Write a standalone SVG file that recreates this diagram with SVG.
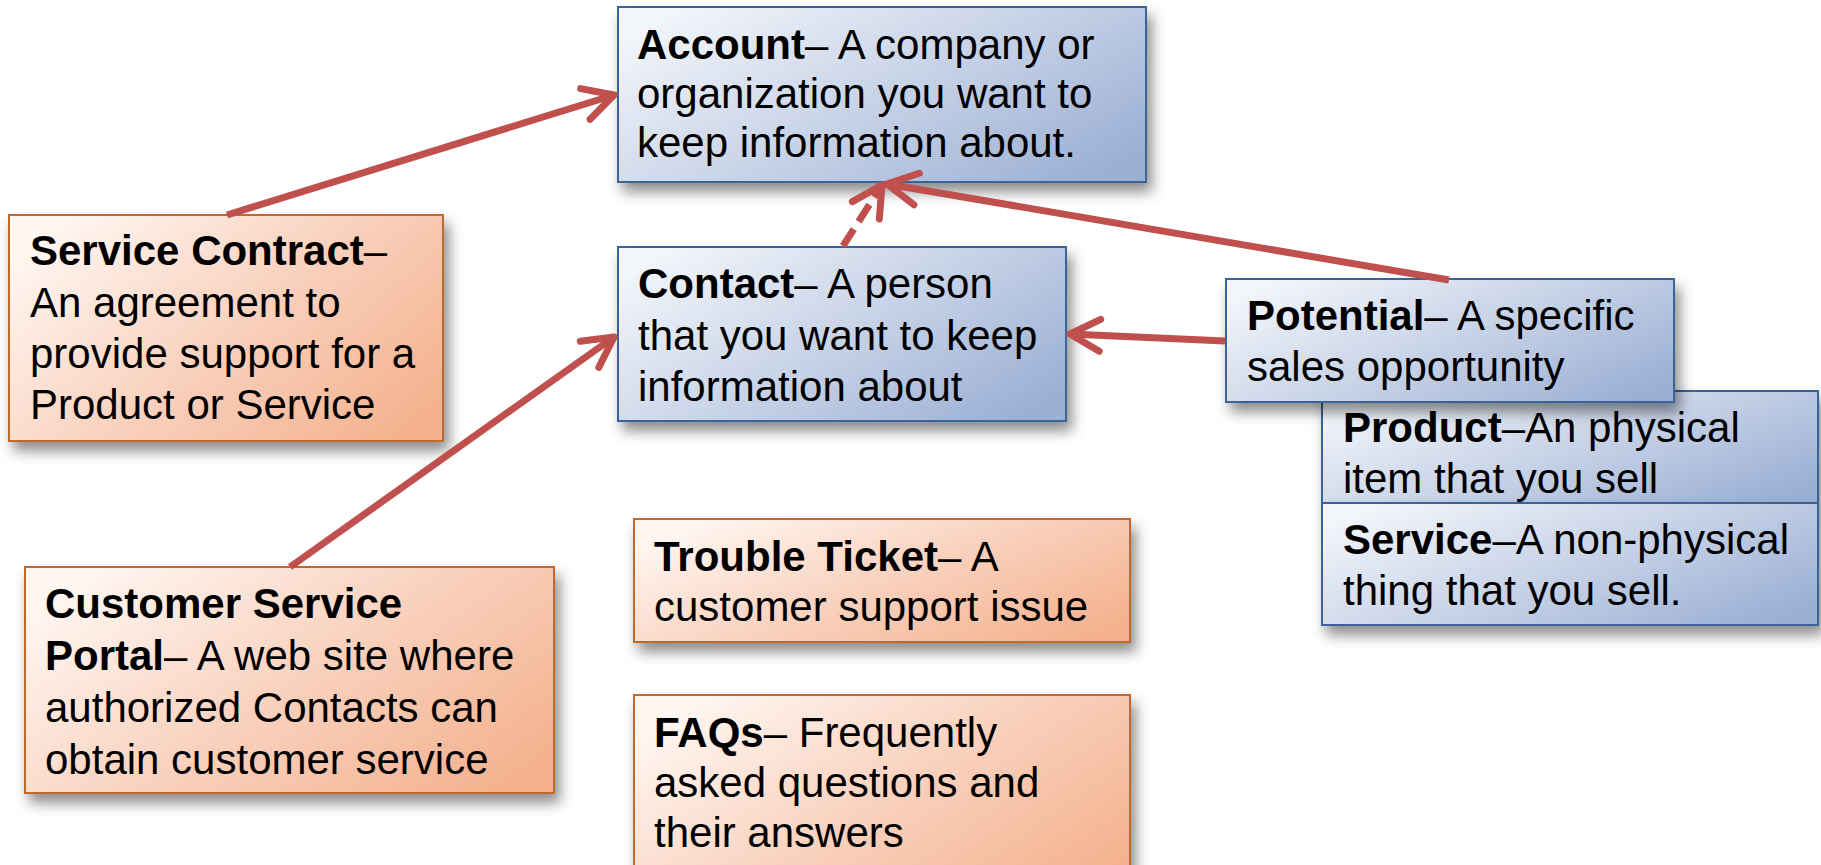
<svg xmlns="http://www.w3.org/2000/svg" width="1821" height="865" viewBox="0 0 1821 865">
<defs>
<linearGradient id="gBlue" x1="0" y1="0.2" x2="1" y2="0.8">
<stop offset="0" stop-color="#F2F5FA"/>
<stop offset="0.5" stop-color="#C8D3E7"/>
<stop offset="1" stop-color="#9CB0D5"/>
</linearGradient>
<linearGradient id="gOrange" x1="0" y1="0.2" x2="1" y2="0.8">
<stop offset="0" stop-color="#FFF7F2"/>
<stop offset="0.5" stop-color="#F9D2BF"/>
<stop offset="1" stop-color="#F4B28F"/>
</linearGradient>
<filter id="shadow" x="-10%" y="-10%" width="130%" height="140%">
<feDropShadow dx="5" dy="9" stdDeviation="7" flood-color="#000" flood-opacity="0.45"/>
</filter>
<marker id="arrow" markerUnits="userSpaceOnUse" orient="auto" refX="0" refY="0" markerWidth="60" markerHeight="60" viewBox="-40 -30 50 60" overflow="visible">
<path d="M -30 -16 L 0 0 L -30 16" fill="none" stroke="#C0504D" stroke-width="7" stroke-linecap="round" stroke-linejoin="round"/>
</marker>
</defs>
<style>
.blue{fill:url(#gBlue);stroke:#3A6399;stroke-width:2;filter:url(#shadow)}
.orange{fill:url(#gOrange);stroke:#C06A2C;stroke-width:2;filter:url(#shadow)}
text{font-family:"Liberation Sans",Arial,sans-serif;font-size:42px;fill:#000}
.b{font-weight:bold}
.conn{fill:none;stroke:#C0504D;stroke-width:7;stroke-linecap:butt;marker-end:url(#arrow)}
.dash{stroke-dasharray:20 9}
</style>
<rect width="1821" height="865" fill="#FFFFFF"/>

<g id="account">
<rect class="blue" x="618" y="7" width="528" height="175"/>
<text x="637" y="59"><tspan class="b">Account</tspan>– A company or</text>
<text x="637" y="108">organization you want to</text>
<text x="637" y="157">keep information about.</text>
</g>

<g id="service-contract">
<rect class="orange" x="9" y="215" width="434" height="226"/>
<text x="30" y="265"><tspan class="b">Service Contract</tspan>–</text>
<text x="30" y="317">An agreement to</text>
<text x="30" y="368">provide support for a</text>
<text x="30" y="419">Product or Service</text>
</g>

<g id="contact">
<rect class="blue" x="618" y="247" width="448" height="174"/>
<text x="638" y="298"><tspan class="b">Contact</tspan>– A person</text>
<text x="638" y="350">that you want to keep</text>
<text x="638" y="401">information about</text>
</g>

<g id="product">
<rect class="blue" x="1322" y="391" width="496" height="112"/>
<text x="1343" y="442"><tspan class="b">Product</tspan>–An physical</text>
<text x="1343" y="493">item that you sell</text>
</g>

<g id="service">
<rect class="blue" x="1322" y="503" width="496" height="122"/>
<text x="1343" y="554"><tspan class="b">Service</tspan>–A non-physical</text>
<text x="1343" y="605">thing that you sell.</text>
</g>

<g id="potential">
<rect class="blue" x="1226" y="279" width="448" height="123"/>
<text x="1247" y="330"><tspan class="b">Potential</tspan>– A specific</text>
<text x="1247" y="381">sales opportunity</text>
</g>

<g id="customer-service-portal">
<rect class="orange" x="25" y="567" width="529" height="226"/>
<text x="45" y="618"><tspan class="b">Customer Service</tspan></text>
<text x="45" y="670"><tspan class="b">Portal</tspan>– A web site where</text>
<text x="45" y="722">authorized Contacts can</text>
<text x="45" y="774">obtain customer service</text>
</g>

<g id="trouble-ticket">
<rect class="orange" x="634" y="519" width="496" height="123"/>
<text x="654" y="571"><tspan class="b">Trouble Ticket</tspan>– A</text>
<text x="654" y="621">customer support issue</text>
</g>

<g id="faqs">
<rect class="orange" x="634" y="695" width="496" height="200"/>
<text x="654" y="747"><tspan class="b">FAQs</tspan>– Frequently</text>
<text x="654" y="797">asked questions and</text>
<text x="654" y="847">their answers</text>
</g>

<g id="connectors">
<line class="conn" x1="227" y1="215" x2="614" y2="95"/>
<line class="conn" x1="290" y1="567" x2="614" y2="337"/>
<line class="conn dash" x1="843" y1="246" x2="882" y2="185"/>
<line class="conn" x1="1449" y1="280" x2="887" y2="184"/>
<line class="conn" x1="1225" y1="341" x2="1070" y2="334"/>
</g>
</svg>
